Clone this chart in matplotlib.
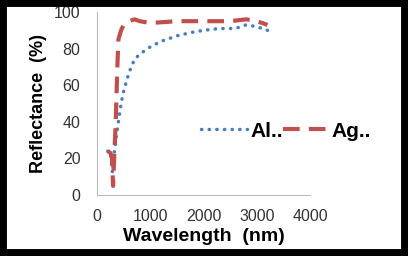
import matplotlib.pyplot as plt
from matplotlib.patches import Rectangle

plt.rcParams['font.family'] = ['Liberation Sans', 'DejaVu Sans']

# data
al_x = [200, 250, 290, 310, 350, 400, 450, 500, 600, 700, 800, 1000, 1200, 1500, 1800, 2000, 2300, 2600, 2800, 3000, 3200]
al_y = [24, 24, 12, 20, 30, 40, 50, 57, 67, 74, 77, 81, 84, 87, 89, 90, 91, 91, 93, 92, 90]
ag_x = [200, 250, 280, 300, 320, 350, 380, 400, 450, 500, 600, 700, 800, 1000, 1500, 2000, 2500, 2800, 3000, 3200]
ag_y = [24, 23, 20, 5, 20, 40, 70, 85, 90, 93, 95, 96, 95, 94, 95, 95, 95, 96, 95, 93]
xticks = [0, 1000, 2000, 3000, 4000]
yticks = [0, 20, 40, 60, 80, 100]

fig = plt.figure(figsize=(4.08, 2.56), dpi=100)
ax = fig.add_axes([0.238, 0.238, 0.522, 0.715])

ax.plot(al_x, al_y, color='#4a7ebb', linestyle=(0, (0.1, 2.1)), linewidth=2.5,
        dash_capstyle='round', label='Al..')
ax.plot(ag_x, ag_y, color='#c0504d', linestyle=(0, (4, 2.2)), linewidth=3.0, label='Ag..')

ax.set_xlim(0, 4000)
ax.set_ylim(0, 100)
ax.set_xticks(xticks)
ax.set_yticks(yticks)
ax.tick_params(length=0, labelsize=11.5, colors='#333333')
ax.tick_params(axis='x', pad=10)
ax.tick_params(axis='y', pad=12)
for s in ['top', 'right']:
    ax.spines[s].set_visible(False)
for s in ['left', 'bottom']:
    ax.spines[s].set_color('#bbbbbb')
ax.set_xlabel('Wavelength  (nm)', fontsize=14, fontweight='bold', labelpad=3)
ax.set_ylabel('Reflectance  (%)', fontsize=13, fontweight='bold', labelpad=5)

ax.legend(loc='center left', bbox_to_anchor=(0.44, 0.35), ncol=2, frameon=False,
          prop={'weight': 'bold', 'size': 15}, handlelength=2.2, borderpad=0,
          handletextpad=0.15, columnspacing=0.0)

fig.patches.append(Rectangle((0, 0), 1, 1, transform=fig.transFigure, fill=False,
                             edgecolor='black', linewidth=10))

fig.savefig('out.png', dpi=100)
